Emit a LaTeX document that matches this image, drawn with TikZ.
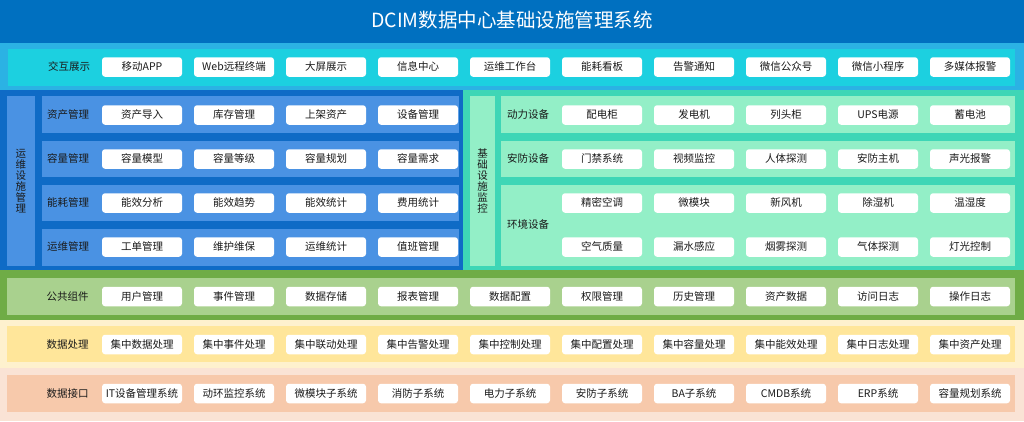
\documentclass[tikz,border=0pt]{standalone}
\usepackage{fontspec}
\setmainfont{Noto Sans CJK SC}
\definecolor{titleblue}{HTML}{0070C0}
\definecolor{rowAout}{HTML}{2BB2E4}
\definecolor{rowAin}{HTML}{1CD0E0}
\definecolor{leftout}{HTML}{0F6BC6}
\definecolor{leftin}{HTML}{4A92E3}
\definecolor{rightout}{HTML}{3ED6B6}
\definecolor{rightin}{HTML}{93EFC7}
\definecolor{pubout}{HTML}{6FAC46}
\definecolor{pubin}{HTML}{A9D18E}
\definecolor{procout}{HTML}{FEF1CE}
\definecolor{procin}{HTML}{FFE69A}
\definecolor{ifout}{HTML}{FAE3D5}
\definecolor{ifin}{HTML}{F7C9AB}
\definecolor{txt}{HTML}{1A1A1A}
\begin{document}
\begin{tikzpicture}[x=1pt,y=-1pt,
  item/.style={fill=white, rounded corners=3pt, minimum width=80pt, minimum height=19.5pt,
    inner sep=0pt, outer sep=0pt, text=txt, text height=8.6pt, text depth=1.6pt,
    font=\fontsize{10.5}{12}\selectfont},
  lbl/.style={inner sep=0pt, text=txt, text height=8.6pt, text depth=1.6pt,
    font=\fontsize{10.5}{12}\selectfont},
  vlbl/.style={inner sep=0pt, text=txt, align=center, font=\fontsize{10.5}{11}\selectfont},
  ttl/.style={inner sep=0pt, text=white, text height=15pt, text depth=3pt,
    font=\fontsize{19.5}{22}\selectfont}]
\useasboundingbox (0,0) rectangle (1024,421);
% ---------- backgrounds ----------
\fill[titleblue] (0,0) rectangle (1024,43);
\fill[rowAout] (0,43) rectangle (1024,90);
\fill[rowAin] (8,49) rectangle (1015,86);
\fill[leftout] (0,90) rectangle (463,270);
\fill[leftin] (7,96) rectangle (35,266);
\foreach \a/\b in {96/133,141/177,185/221,229/266}
  \fill[leftin] (42,\a) rectangle (459,\b);
\fill[rightout] (463,90) rectangle (1024,270);
\fill[rightin] (470,96) rectangle (495,266);
\foreach \a/\b in {96/133,141/177,185/266}
  \fill[rightin] (501,\a) rectangle (1015,\b);
\fill[pubout] (0,270) rectangle (1024,320);
\fill[pubin] (7,278) rectangle (1015,315);
\fill[procout] (0,320) rectangle (1024,368);
\fill[procin] (7,326) rectangle (1015,362);
\fill[ifout] (0,368) rectangle (1024,421);
\fill[ifin] (7,375) rectangle (1015,412);
% ---------- title ----------
\node[ttl] (title) at (512,21) {DCIM数据中心基础设施管理系统};
% ---------- row 1 ----------
\node[lbl] (lblA) at (69,67) {交互展示};
\foreach \t [count=\i from 0] in {移动APP,Web远程终端,大屏展示,信息中心,运维工作台,能耗看板,告警通知,微信公众号,微信小程序,多媒体报警}
  \node[item] (a\i) at (142+92*\i,67) {\t};
% ---------- left block ----------
\node[vlbl] (vleft) at (21,181) {运\\维\\设\\施\\管\\理};
\node[lbl] (l1) at (68,115) {资产管理};
\node[lbl] (l2) at (68,159) {容量管理};
\node[lbl] (l3) at (68,203) {能耗管理};
\node[lbl] (l4) at (68,247) {运维管理};
\foreach \t [count=\i from 0] in {资产导入,库存管理,上架资产,设备管理}
  \node[item] (la\i) at (142+92*\i,115) {\t};
\foreach \t [count=\i from 0] in {容量模型,容量等级,容量规划,容量需求}
  \node[item] (lb\i) at (142+92*\i,159) {\t};
\foreach \t [count=\i from 0] in {能效分析,能效趋势,能效统计,费用统计}
  \node[item] (lc\i) at (142+92*\i,203) {\t};
\foreach \t [count=\i from 0] in {工单管理,维护维保,运维统计,值班管理}
  \node[item] (ld\i) at (142+92*\i,247) {\t};
% ---------- right block ----------
\node[vlbl] (vright) at (482.5,181) {基\\础\\设\\施\\监\\控};
\node[lbl] (r1) at (528,115) {动力设备};
\node[lbl] (r2) at (528,159) {安防设备};
\node[lbl] (r3) at (528,225) {环境设备};
\foreach \t [count=\i from 0] in {配电柜,发电机,列头柜,UPS电源,蓄电池}
  \node[item] (ra\i) at (602+92*\i,115) {\t};
\foreach \t [count=\i from 0] in {门禁系统,视频监控,人体探测,安防主机,声光报警}
  \node[item] (rb\i) at (602+92*\i,159) {\t};
\foreach \t [count=\i from 0] in {精密空调,微模块,新风机,除湿机,温湿度}
  \node[item] (rc\i) at (602+92*\i,203) {\t};
\foreach \t [count=\i from 0] in {空气质量,漏水感应,烟雾探测,气体探测,灯光控制}
  \node[item] (rd\i) at (602+92*\i,247) {\t};
% ---------- public components ----------
\node[lbl] (lblP) at (67.5,296.5) {公共组件};
\foreach \t [count=\i from 0] in {用户管理,事件管理,数据存储,报表管理,数据配置,权限管理,历史管理,资产数据,访问日志,操作日志}
  \node[item] (p\i) at (142+92*\i,296.5) {\t};
% ---------- data processing ----------
\node[lbl] (lblD) at (67.5,344.5) {数据处理};
\foreach \t [count=\i from 0] in {集中数据处理,集中事件处理,集中联动处理,集中告警处理,集中控制处理,集中配置处理,集中容量处理,集中能效处理,集中日志处理,集中资产处理}
  \node[item] (d\i) at (142+92*\i,344.5) {\t};
% ---------- data interface ----------
\node[lbl] (lblI) at (67.5,393.5) {数据接口};
\foreach \t [count=\i from 0] in {IT设备管理系统,动环监控系统,微模块子系统,消防子系统,电力子系统,安防子系统,BA子系统,CMDB系统,ERP系统,容量规划系统}
  \node[item] (f\i) at (142+92*\i,393.5) {\t};
\end{tikzpicture}
\end{document}
